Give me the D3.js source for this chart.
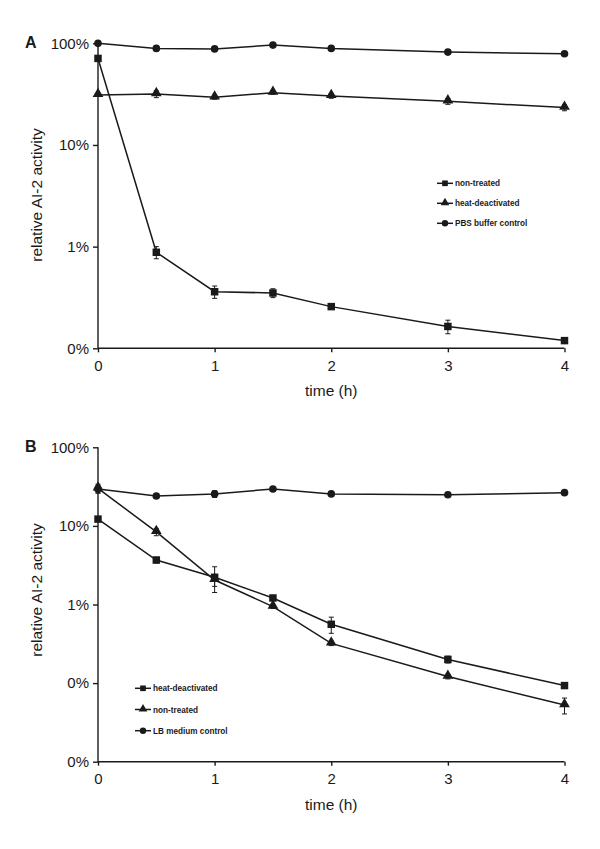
<!DOCTYPE html>
<html><head><meta charset="utf-8">
<script src="https://cdn.jsdelivr.net/npm/d3@7/dist/d3.min.js"></script>
<style>body{margin:0;background:#fff}svg{display:block}</style>
</head><body>
<script>
// ---- data ----
const times = [0, 0.5, 1, 1.5, 2, 3, 4];
const xTicks = [0, 1, 2, 3, 4];

// Panel A (values in %)
const aNonTreated = [71, 0.88, 0.36, 0.35, 0.257, 0.164, 0.119];
const aNonTreatedErr = [3, 0.12, 0.05, 0.035, 0.01, 0.025, 0.005];
const aHeat = [31, 31.7, 29.4, 32.7, 30.3, 26.9, 23.3];
const aHeatErr = [1, 2.5, 1.2, 1.2, 1.5, 1.8, 1.6];
const aPBS = [100, 89, 88, 96, 89, 82, 79];
const aPBSErr = [2, 5, 2, 2, 2, 2, 1.5];
const aYTicks = [0.1, 1, 10, 100];
const aYTickLabels = ["0%", "1%", "10%", "100%"];
const aLegend = ["non-treated", "heat-deactivated", "PBS buffer control"];

// Panel B (values in %)
const bHeat = [12.2, 3.68, 2.22, 1.21, 0.56, 0.2, 0.093];
const bHeatErr = [0.6, 0.3, 0.8, 0.06, 0.13, 0.02, 0.005];
const bNonTreated = [30, 8.4, 2.05, 0.94, 0.32, 0.121, 0.0525];
const bNonTreatedErr = [4, 0.9, 0.35, 0.05, 0.02, 0.008, 0.012];
const bLB = [29.5, 24, 25.5, 29.5, 25.5, 24.9, 26.5];
const bLBErr = [3, 1.2, 2.5, 1, 1, 1.5, 1];
const bYTicks = [0.01, 0.1, 1, 10, 100];
const bYTickLabels = ["0%", "0%", "1%", "10%", "100%"];
const bLegend = ["heat-deactivated", "non-treated", "LB medium control"];

const W = 600, H = 849;
const FONT = "'Liberation Sans', Arial, Helvetica, sans-serif";
const INK = "#1a1a1a";

const svg = d3.select("body").append("svg").attr("width", W).attr("height", H)
  .style("font-family", FONT);

const x = d3.scaleLinear().domain([0, 4]).range([98, 564.5]);

function symbolPath(kind, size) {
  const t = kind === "square" ? d3.symbolSquare : kind === "triangle" ? d3.symbolTriangle : d3.symbolCircle;
  return d3.symbol().type(t).size(size)();
}
const sizes = {square: 56, triangle: 50, circle: 46};

function panel(cfg) {
  const y = d3.scaleLog().domain(cfg.domain).range(cfg.range);
  const g = svg.append("g");

  // y axis
  const yAxis = d3.axisLeft(y).tickValues(cfg.yTicks)
    .tickFormat((d, i) => cfg.yLabels[i]).tickSize(5).tickPadding(4);
  const ga = g.append("g").attr("transform", `translate(${x(0)},0)`).call(yAxis);
  ga.select(".domain").attr("d", `M0,${y(cfg.domain[1])}V${y(cfg.domain[0])}`);
  // x axis
  const xAxis = d3.axisBottom(x).tickValues(xTicks).tickFormat(d3.format("d")).tickSize(4).tickPadding(8);
  const gx = g.append("g").attr("transform", `translate(0,${y(cfg.domain[0])})`).call(xAxis);
  gx.select(".domain").attr("d", `M${x(0)},0H${x(4)}`);
  [ga, gx].forEach(a => {
    a.selectAll("path,line").attr("stroke", INK).attr("stroke-width", 1.4);
    a.selectAll("text").attr("font-size", 15).attr("fill", INK).attr("font-family", FONT);
  });

  // titles
  g.append("text").attr("x", x(2)).attr("y", y(cfg.domain[0]) + 48)
    .attr("text-anchor", "middle").attr("font-size", 15.5).attr("fill", INK).text("time (h)");
  g.append("text").attr("transform", `translate(42,${cfg.titleY}) rotate(-90)`)
    .attr("text-anchor", "middle").attr("font-size", 15.5).attr("fill", INK).text("relative AI-2 activity");
  g.append("text").attr("x", 25).attr("y", y(cfg.domain[1]) + 5)
    .attr("font-size", 16).attr("font-weight", "bold").attr("fill", INK).text(cfg.label);

  const line = d3.line().x(d => x(d.t)).y(d => y(d.v));
  cfg.series.forEach(s => {
    const pts = times.map((t, i) => ({t, v: s.values[i], e: s.err[i]}));
    g.append("path").datum(pts).attr("d", line).attr("fill", "none")
      .attr("stroke", INK).attr("stroke-width", 1.5);
    const eb = g.append("g").attr("stroke", INK).attr("stroke-width", 1);
    pts.forEach(p => {
      const lo = y(Math.max(p.v - p.e, cfg.domain[0])), hi = y(p.v + p.e);
      eb.append("line").attr("x1", x(p.t)).attr("x2", x(p.t)).attr("y1", lo).attr("y2", hi);
      eb.append("line").attr("x1", x(p.t) - 2.5).attr("x2", x(p.t) + 2.5).attr("y1", lo).attr("y2", lo);
      eb.append("line").attr("x1", x(p.t) - 2.5).attr("x2", x(p.t) + 2.5).attr("y1", hi).attr("y2", hi);
    });
    g.append("g").selectAll("path").data(pts).join("path")
      .attr("transform", p => `translate(${x(p.t)},${y(p.v) + (s.kind === "triangle" ? -1 : 0)})`)
      .attr("d", symbolPath(s.kind, sizes[s.kind])).attr("fill", INK);
  });

  // legend
  const lg = g.append("g").attr("transform", `translate(${cfg.legend[0]},${cfg.legend[1]})`);
  cfg.series.forEach((s, i) => {
    const r = lg.append("g").attr("transform", `translate(0,${i * cfg.legendGap})`);
    r.append("line").attr("x1", 0).attr("x2", 16).attr("stroke", INK).attr("stroke-width", 1.5);
    r.append("path").attr("transform", `translate(8,${s.kind === "triangle" ? -0.5 : 0})`)
      .attr("d", symbolPath(s.kind, 32)).attr("fill", INK);
    r.append("text").attr("x", 18).attr("y", 3).attr("font-size", 8.2).attr("font-weight", "bold")
      .attr("fill", INK).text(s.name);
  });
}

panel({
  label: "A",
  domain: [0.1, 100], range: [348.3, 43.3], titleY: 195,
  yTicks: aYTicks, yLabels: aYTickLabels,
  series: [
    {name: aLegend[0], kind: "square", values: aNonTreated, err: aNonTreatedErr},
    {name: aLegend[1], kind: "triangle", values: aHeat, err: aHeatErr},
    {name: aLegend[2], kind: "circle", values: aPBS, err: aPBSErr}
  ],
  legend: [437, 183.3], legendGap: 20
});

panel({
  label: "B",
  domain: [0.01, 100], range: [761.7, 447.3], titleY: 590,
  yTicks: bYTicks, yLabels: bYTickLabels,
  series: [
    {name: bLegend[0], kind: "square", values: bHeat, err: bHeatErr},
    {name: bLegend[1], kind: "triangle", values: bNonTreated, err: bNonTreatedErr},
    {name: bLegend[2], kind: "circle", values: bLB, err: bLBErr}
  ],
  legend: [135, 688.3], legendGap: 21.2
});
</script>
</body></html>
